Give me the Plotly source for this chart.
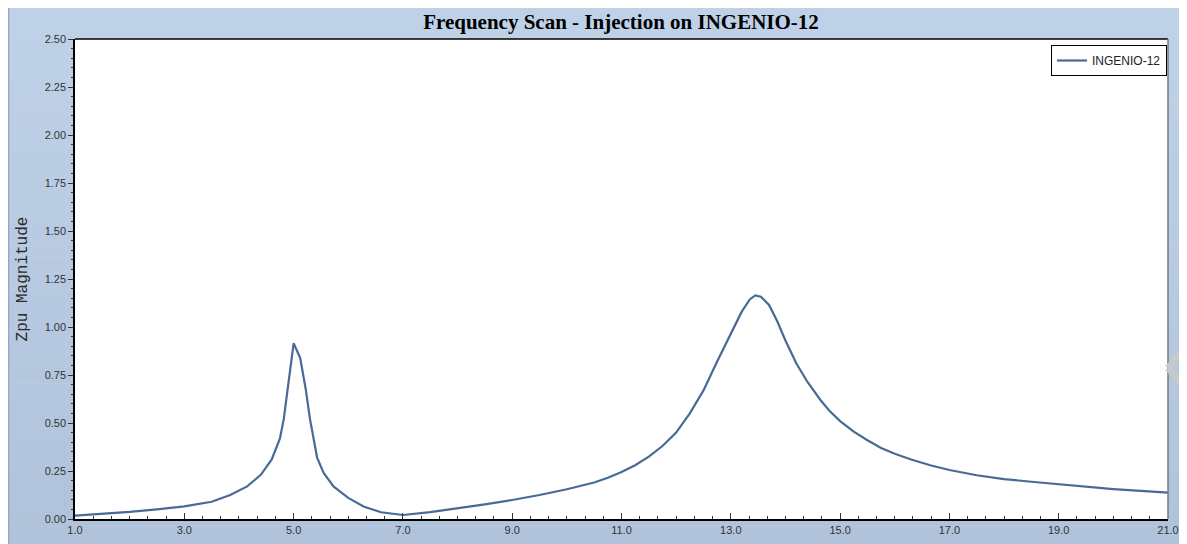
import plotly.graph_objects as go

# ---- data ----
freq = [1.0, 1.5, 2.0, 2.5, 3.0, 3.5, 3.84, 4.15, 4.4, 4.6, 4.75, 4.82, 4.9, 5.0,
        5.12, 5.22, 5.3, 5.36, 5.43, 5.55, 5.73, 6.0, 6.28, 6.6, 7.0, 7.5, 8.0,
        8.5, 9.0, 9.5, 10.0, 10.5, 10.75, 11.0, 11.25, 11.5, 11.75, 12.0, 12.25,
        12.5, 12.75, 13.0, 13.2, 13.35, 13.45, 13.55, 13.7, 13.85, 14.0, 14.2,
        14.4, 14.64, 14.8, 15.0, 15.25, 15.5, 15.75, 16.0, 16.3, 16.65, 17.0,
        17.5, 18.0, 18.5, 19.0, 19.5, 20.0, 20.5, 21.0]
zpu = [0.018, 0.027, 0.037, 0.05, 0.066, 0.09, 0.125, 0.17, 0.23, 0.31, 0.42,
       0.52, 0.69, 0.915, 0.84, 0.68, 0.52, 0.42, 0.32, 0.24, 0.17, 0.11, 0.065,
       0.035, 0.021, 0.036, 0.055, 0.076, 0.099, 0.125, 0.155, 0.19, 0.215,
       0.245, 0.28, 0.325, 0.38, 0.45, 0.55, 0.67, 0.82, 0.965, 1.08, 1.145,
       1.165, 1.158, 1.115, 1.03, 0.93, 0.81, 0.715, 0.62, 0.565, 0.51, 0.455,
       0.41, 0.37, 0.34, 0.31, 0.28, 0.255, 0.228, 0.208, 0.194, 0.181, 0.168,
       0.156, 0.146, 0.137]
series_name = "INGENIO-12"
title_text = "Frequency Scan - Injection on INGENIO-12"
y_title = "Zpu Magnitude"
x_ticks = [1.0, 3.0, 5.0, 7.0, 9.0, 11.0, 13.0, 15.0, 17.0, 19.0, 21.0]
y_ticks = [0.0, 0.25, 0.5, 0.75, 1.0, 1.25, 1.5, 1.75, 2.0, 2.25, 2.5]

# figure is placed at (8, 8) in the page by the body margin
W, H = 1179, 536
L, R, T, B = 67, 19, 31, 25
PW, PH = W - L - R, H - T - B


def px(xp):
    return (xp - L) / PW


def py(yp):
    return (H - B - yp) / PH


fig = go.Figure()
fig.add_trace(go.Scatter(x=freq, y=zpu, mode="lines", name=series_name,
                         line=dict(color="#486a96", width=2.2)))

shapes = []
n = 30
top_c = (191, 209, 231)
bot_c = (176, 195, 219)
for i in range(n):
    t = i / (n - 1)
    c = tuple(int(round(top_c[k] + (bot_c[k] - top_c[k]) * t)) for k in range(3))
    shapes.append(dict(type="rect", xref="paper", yref="paper", layer="below",
                       x0=px(0), x1=px(W), y0=py(H * (i + 1) / n + 0.5), y1=py(H * i / n),
                       line=dict(width=0), fillcolor="rgb(%d,%d,%d)" % c))
# white plot area on top of the bands
shapes.append(dict(type="rect", xref="paper", yref="paper", layer="below",
                   x0=0, x1=1, y0=0, y1=1, line=dict(width=0), fillcolor="white"))
# thin darker line at left edge of panel
shapes.append(dict(type="line", xref="paper", yref="paper", layer="below",
                   x0=px(0.5), x1=px(0.5), y0=py(H), y1=py(0),
                   line=dict(color="#90a8c6", width=1.5)))
# top border of plot area
shapes.append(dict(type="line", xref="paper", yref="paper", x0=0, x1=1, y0=1, y1=1,
                   line=dict(color="black", width=1.5)))
# right border of plot area
shapes.append(dict(type="line", xref="paper", yref="paper", x0=1, x1=1, y0=0, y1=1,
                   line=dict(color="#7a7a7a", width=1.5)))
# decorative chevron on right edge (two strokes)
for yend in (340, 380):
    shapes.append(dict(type="line", xref="paper", yref="paper",
                       x0=px(1160), y0=py(360), x1=px(W - 1), y1=py(yend),
                       line=dict(color="rgb(200,201,204)", width=7)))

fig.update_layout(
    width=W, height=H,
    paper_bgcolor="white",
    plot_bgcolor="white",
    margin=dict(l=L, r=R, t=T, b=B, autoexpand=False),
    shapes=shapes,
    title=dict(text="<b>" + title_text + "</b>", x=613 / W, xanchor="center",
               y=1 - 14 / H, yanchor="middle",
               font=dict(family="Liberation Serif", size=21, color="black")),
    showlegend=True,
    legend=dict(x=px(1159), xanchor="right", y=py(37), yanchor="top",
                bgcolor="white", bordercolor="black", borderwidth=1,
                font=dict(family="Liberation Sans", size=12, color="#222"),
                itemwidth=30),
    xaxis=dict(range=[1.0, 21.0], tickvals=x_ticks,
               ticktext=["%.1f" % v for v in x_ticks], automargin=False,
               showgrid=False, zeroline=False, showline=True,
               linecolor="black", linewidth=2, ticks="inside", ticklen=6,
               tickcolor="#333", tickwidth=1,
               minor=dict(dtick=1 / 3, tick0=1.0, ticks="inside", ticklen=3,
                          tickcolor="#333", showgrid=False),
               tickfont=dict(family="Liberation Sans", size=11, color="#333")),
    yaxis=dict(range=[0, 2.5], tickvals=y_ticks,
               ticktext=["%.2f" % v for v in y_ticks], automargin=False,
               showgrid=False, zeroline=False, showline=True,
               linecolor="black", linewidth=1.5, ticks="outside", ticklen=5,
               tickcolor="#333", tickwidth=1,
               minor=dict(dtick=0.05, tick0=0, ticks="outside", ticklen=2,
                          tickcolor="#333", showgrid=False),
               tickfont=dict(family="Liberation Sans", size=11, color="#333"),
               title=dict(text=y_title, standoff=13,
                          font=dict(family="Liberation Mono", size=16, color="#2a2a2a"))),
)

fig.write_html("out.html")
